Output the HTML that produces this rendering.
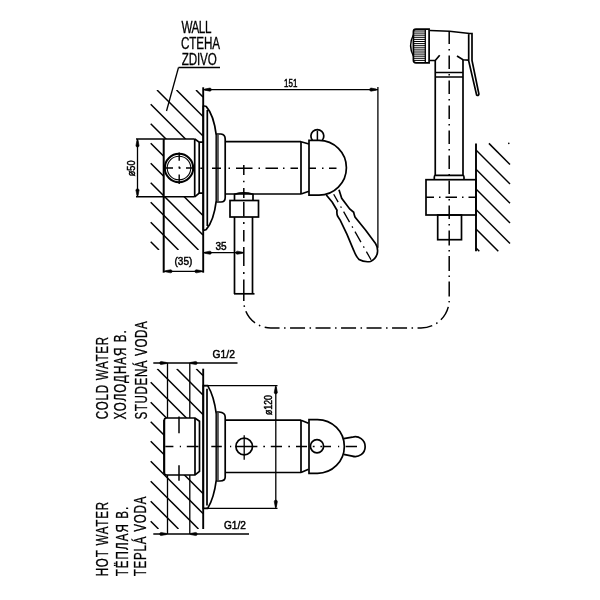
<!DOCTYPE html>
<html><head><meta charset="utf-8"><style>
html,body{margin:0;padding:0;background:#fff;width:600px;height:600px;overflow:hidden}
svg{display:block;will-change:transform}
text{font-family:"Liberation Sans",sans-serif;fill:#000;stroke:#000;stroke-width:0.3px}
text.n{stroke-width:0.5px}
</style></head><body>
<svg width="600" height="600" viewBox="0 0 600 600" stroke="#000" stroke-linecap="butt" fill="none">
<text transform="translate(181.40 33.15) scale(0.73 1)" font-size="16.00" text-anchor="start" textLength="41.10" lengthAdjust="spacing">WALL</text>
<text transform="translate(181.00 48.85) scale(0.73 1)" font-size="16.00" text-anchor="start" textLength="53.42" lengthAdjust="spacing">CTEHA</text>
<text transform="translate(181.80 64.50) scale(0.73 1)" font-size="16.00" text-anchor="start" textLength="47.95" lengthAdjust="spacing">ZDIVO</text>
<line x1="178.50" y1="67.50" x2="220.00" y2="67.50" stroke-width="1.3" />
<line x1="178.50" y1="67.50" x2="166.50" y2="111.00" stroke-width="1.3" />
<clipPath id="c1"><path d="M150 90 H203 V139 H164 V197 H203 V250 H150 Z"/></clipPath>
<line x1="196.00" y1="90.00" x2="203.00" y2="97.00" stroke-width="1.5" clip-path="url(#c1)"/>
<line x1="176.50" y1="90.00" x2="203.00" y2="116.50" stroke-width="1.5" clip-path="url(#c1)"/>
<line x1="157.00" y1="90.00" x2="203.00" y2="136.00" stroke-width="1.5" clip-path="url(#c1)"/>
<line x1="150.70" y1="104.20" x2="203.00" y2="156.50" stroke-width="1.5" clip-path="url(#c1)"/>
<line x1="150.70" y1="123.70" x2="203.00" y2="176.00" stroke-width="1.5" clip-path="url(#c1)"/>
<line x1="150.70" y1="143.20" x2="203.00" y2="195.50" stroke-width="1.5" clip-path="url(#c1)"/>
<line x1="150.70" y1="163.20" x2="203.00" y2="215.50" stroke-width="1.5" clip-path="url(#c1)"/>
<line x1="150.70" y1="182.70" x2="203.00" y2="235.00" stroke-width="1.5" clip-path="url(#c1)"/>
<line x1="150.70" y1="202.20" x2="198.50" y2="250.00" stroke-width="1.5" clip-path="url(#c1)"/>
<line x1="150.70" y1="222.20" x2="178.50" y2="250.00" stroke-width="1.5" clip-path="url(#c1)"/>
<line x1="150.70" y1="241.70" x2="159.00" y2="250.00" stroke-width="1.5" clip-path="url(#c1)"/>
<line x1="203.20" y1="87.30" x2="203.20" y2="272.70" stroke-width="1.9" />
<line x1="203.00" y1="89.60" x2="378.00" y2="89.60" stroke-width="1.3" />
<path d="M204.60 89.06 L209.85 88.05 A1.55 1.55 0 0 1 209.85 91.15 L204.60 90.14 Z" fill="#000" stroke="#000" stroke-width="0.6" stroke-linejoin="round"/>
<path d="M376.40 90.14 L371.15 91.15 A1.55 1.55 0 0 1 371.15 88.05 L376.40 89.06 Z" fill="#000" stroke="#000" stroke-width="0.6" stroke-linejoin="round"/>
<text class="n" transform="translate(284.10 86.70) scale(0.6765257108936115 1)" font-size="11.80" text-anchor="start">151</text>
<line x1="377.90" y1="87.00" x2="377.90" y2="247.70" stroke-width="1.3" />
<line x1="136.00" y1="139.00" x2="194.70" y2="139.00" stroke-width="1.5" />
<path d="M194.7 139 L199.2 142.2 H203" stroke-width="1.7" fill="none" />
<line x1="136.00" y1="196.80" x2="194.70" y2="196.80" stroke-width="1.5" />
<path d="M194.7 196.8 L199.2 193.2 H203" stroke-width="1.7" fill="none" />
<line x1="163.70" y1="139.00" x2="163.70" y2="272.70" stroke-width="2.0" />
<line x1="194.70" y1="139.00" x2="194.70" y2="196.80" stroke-width="1.7" />
<line x1="199.20" y1="142.20" x2="199.20" y2="193.20" stroke-width="1.7" />
<line x1="137.50" y1="139.00" x2="137.50" y2="196.80" stroke-width="1.3" />
<path d="M138.04 140.30 L139.05 145.55 A1.55 1.55 0 0 1 135.95 145.55 L136.96 140.30 Z" fill="#000" stroke="#000" stroke-width="0.6" stroke-linejoin="round"/>
<path d="M136.96 195.50 L135.95 190.25 A1.55 1.55 0 0 1 139.05 190.25 L138.04 195.50 Z" fill="#000" stroke="#000" stroke-width="0.6" stroke-linejoin="round"/>
<text class="n" transform="translate(134.95 176.25) rotate(-90) scale(0.7751942383391146 1)" font-size="11.80" text-anchor="start">ø50</text>
<circle cx="179" cy="168" r="14.2" stroke-width="2.0" fill="none"/>
<circle cx="179" cy="168" r="11.8" stroke-width="1.1" fill="none"/>
<path d="M164.8 168H173 M179.0 168H180.6 M186 168H193" stroke-width="1.4" fill="none" />
<path d="M179.2 152.5V160.7 M179.2 166.5V168.5 M179.2 174.5V184" stroke-width="1.4" fill="none" />
<path d="M203.3 229.8 L203.3 106.3 Q204.5 105.6 206.3 106.6 Q213.8 115 216.3 135.3 L216.3 200.7 Q213.8 221 206.3 229.4 Q204.5 230.4 203.3 229.8 Z" stroke-width="1.7" fill="none" />
<line x1="207.30" y1="110.00" x2="207.30" y2="226.00" stroke-width="1.7" />
<path d="M216.3 134 L221 134 Q225.2 134.5 225.2 139 L225.2 197.5 Q225.2 202 221 202 L216.3 202" stroke-width="1.7" fill="none" />
<line x1="217.80" y1="135.00" x2="217.80" y2="201.00" stroke-width="2.2" stroke="#555"/>
<line x1="225.20" y1="141.70" x2="301.00" y2="141.70" stroke-width="1.7" />
<line x1="225.20" y1="194.00" x2="301.00" y2="194.00" stroke-width="1.7" />
<line x1="301.00" y1="141.70" x2="301.00" y2="194.00" stroke-width="1.7" />
<path d="M301 141.7 L309 144 M301 194 L309 191.3" stroke-width="1.7" fill="none" />
<path d="M312.4 140.3 A6.45 6.45 0 1 1 322.3 140.3" stroke-width="1.7" fill="none" />
<line x1="317.40" y1="130.60" x2="317.40" y2="140.40" stroke-width="1.5" />
<path d="M309 140.4 H319 A27.4 27.4 0 0 1 319 195.2 H309 Z" stroke-width="1.7" fill="none" />
<path d="M326.3 195 L332.3 202.3 L337 210.3 Q336.5 214 337.7 216.3 L340.3 220.3 L347 234.3 L353.7 250.3 Q356 256.5 359 259.5 Q364.3 262.5 370.5 261.5 Q376 259 377.4 253 Q378.2 247.5 375.5 243.5 L365.7 230.3 L355 217 Q354 214 353.7 212.3 L349.7 209 L341.7 198.3 L339 189.7" stroke-width="1.7" fill="none" />
<path d="M333.70 194.30L338.16 202.12 M340.64 206.46L341.38 207.76 M343.61 211.67L349.55 222.10 M352.03 226.44L352.77 227.74 M355.00 231.65L360.95 242.08 M363.43 246.42L364.17 247.72 M366.40 251.63L371.01 259.71" stroke-width="1.3" fill="none" />
<path d="M200.3 168.2H202.6 M212 168.2H221 M228.5 168.2H230 M236 168.2H252.5 M258.5 168.2H260 M265.5 168.2H278 M283 168.2H284.5 M290.5 168.2H298 M309 168.2H316 M322 168.2H323.5 M329 168.2H336.5" stroke-width="1.5" fill="none" />
<path d="M234.5 200.5 L234.5 194.3 Q243.8 191.6 253 194.3 L253 200.5" stroke-width="1.7" fill="none" />
<rect x="230" y="200.5" width="28.50" height="16.50" stroke-width="1.7" fill="none"/>
<line x1="234.50" y1="217.00" x2="234.50" y2="294.00" stroke-width="1.7" />
<line x1="252.50" y1="217.00" x2="252.50" y2="294.00" stroke-width="1.7" />
<line x1="234.00" y1="293.80" x2="254.50" y2="293.80" stroke-width="1.7" />
<path d="M243.8 165V175 M243.8 180.8V182.2 M243.8 188V198 M243.8 202V216.5 M243.8 222V224 M243.8 230V241.5 M243.8 247V266 M243.8 272V274 M243.8 279.5V294" stroke-width="1.5" fill="none" />
<line x1="203.00" y1="252.70" x2="244.00" y2="252.70" stroke-width="1.3" />
<path d="M204.60 252.16 L209.85 251.15 A1.55 1.55 0 0 1 209.85 254.25 L204.60 253.24 Z" fill="#000" stroke="#000" stroke-width="0.6" stroke-linejoin="round"/>
<path d="M242.70 253.24 L237.45 254.25 A1.55 1.55 0 0 1 237.45 251.15 L242.70 252.16 Z" fill="#000" stroke="#000" stroke-width="0.6" stroke-linejoin="round"/>
<text class="n" transform="translate(215.50 249.80) scale(0.85 1)" font-size="11.80" text-anchor="start">35</text>
<line x1="163.70" y1="271.30" x2="203.00" y2="271.30" stroke-width="1.3" />
<path d="M165.30 270.76 L170.55 269.75 A1.55 1.55 0 0 1 170.55 272.85 L165.30 271.84 Z" fill="#000" stroke="#000" stroke-width="0.6" stroke-linejoin="round"/>
<path d="M201.70 271.84 L196.45 272.85 A1.55 1.55 0 0 1 196.45 269.75 L201.70 270.76 Z" fill="#000" stroke="#000" stroke-width="0.6" stroke-linejoin="round"/>
<text class="n" transform="translate(174.50 265.00) scale(0.85 1)" font-size="11.80" text-anchor="start">(35)</text>
<path d="M243.8 294 L243.8 301 A27 27 0 0 0 270.8 328 L421 328 A28.2 28.2 0 0 0 449.2 299.8 L449.2 240" stroke-width="1.5" fill="none" stroke-dasharray="15 4.5 1.5 4.5" stroke-dashoffset="8"/>
<path d="M416 29.2 L429.1 29.2 L429.1 62.8 L416 62.8 Q413.4 62.8 413.4 60.2 L413.4 31.8 Q413.4 29.2 416 29.2 Z" stroke-width="1.7" fill="none" />
<line x1="425.30" y1="29.50" x2="425.30" y2="62.50" stroke-width="1.3" />
<path d="M413.4 34.8 Q407.8 45.5 413.4 56.2" stroke-width="1.4" fill="none" />
<line x1="413.60" y1="31.00" x2="425.30" y2="31.00" stroke-width="1.0" />
<line x1="413.60" y1="33.10" x2="425.30" y2="33.10" stroke-width="1.0" />
<line x1="413.60" y1="35.20" x2="425.30" y2="35.20" stroke-width="1.0" />
<line x1="413.60" y1="37.30" x2="425.30" y2="37.30" stroke-width="1.0" />
<line x1="413.60" y1="39.40" x2="425.30" y2="39.40" stroke-width="1.0" />
<line x1="413.60" y1="41.50" x2="425.30" y2="41.50" stroke-width="1.0" />
<line x1="413.60" y1="43.60" x2="425.30" y2="43.60" stroke-width="1.0" />
<line x1="413.60" y1="45.70" x2="425.30" y2="45.70" stroke-width="1.0" />
<line x1="413.60" y1="47.80" x2="425.30" y2="47.80" stroke-width="1.0" />
<line x1="413.60" y1="49.90" x2="425.30" y2="49.90" stroke-width="1.0" />
<line x1="413.60" y1="52.00" x2="425.30" y2="52.00" stroke-width="1.0" />
<line x1="413.60" y1="54.10" x2="425.30" y2="54.10" stroke-width="1.0" />
<line x1="413.60" y1="56.20" x2="425.30" y2="56.20" stroke-width="1.0" />
<line x1="413.60" y1="58.30" x2="425.30" y2="58.30" stroke-width="1.0" />
<line x1="413.60" y1="60.40" x2="425.30" y2="60.40" stroke-width="1.0" />
<path d="M430 30.5 L449.5 31.25 L469.7 33.5 L472 33.5 L472 60.5 L478.9 94 Q478.5 96.2 476.6 95 L468.7 61 L468.7 33.5" stroke-width="1.7" fill="none" />
<path d="M430 60.5 L435.25 60.5 L439.7 55.25 M468.7 60.2 L463 59.75 L457 56" stroke-width="1.7" fill="none" />
<line x1="435.25" y1="60.50" x2="435.25" y2="176.00" stroke-width="1.7" />
<line x1="463.00" y1="59.75" x2="463.00" y2="176.00" stroke-width="1.7" />
<path d="M435.25 72.5 L463 72.5 M435.25 77 L463 77" stroke-width="1.7" fill="none" />
<path d="M435.25 175.3 L463 175.3 M435.25 175.3 Q434.3 175.6 434.3 177.3 L434.3 179.7 M463 175.3 Q464 175.6 464 177.3 L464 179.7" stroke-width="1.7" fill="none" />
<rect x="426" y="179.7" width="50.00" height="35.30" stroke-width="1.7" fill="none"/>
<path d="M426 197.2H434 M439 197.2H440.5 M445.5 197.2H457 M462 197.2H463.5 M468.5 197.2H476" stroke-width="1.4" fill="none" />
<rect x="437.7" y="215" width="23.80" height="24.70" stroke-width="1.7" fill="none"/>
<path d="M449.2 31V44 M449.2 49V50.5 M449.2 55.5V69 M449.2 74V75.5 M449.2 80.5V94 M449.2 99V100.5 M449.2 105.5V119 M449.2 124V125.5 M449.2 130.5V144 M449.2 149V150.5 M449.2 155.5V169 M449.2 174V175.5 M449.2 180.5V194 M449.2 199V200.5 M449.2 205.5V219 M449.2 224V225.5 M449.2 230.5V240" stroke-width="1.5" fill="none" />
<line x1="476.00" y1="143.40" x2="476.00" y2="251.30" stroke-width="1.9" />
<line x1="488.90" y1="143.40" x2="510.00" y2="164.50" stroke-width="1.5" />
<line x1="476.00" y1="150.00" x2="510.00" y2="184.00" stroke-width="1.5" />
<line x1="476.00" y1="169.30" x2="510.00" y2="203.30" stroke-width="1.5" />
<line x1="476.00" y1="189.00" x2="510.00" y2="223.00" stroke-width="1.5" />
<line x1="476.00" y1="209.50" x2="510.00" y2="243.50" stroke-width="1.5" />
<line x1="476.00" y1="229.00" x2="498.30" y2="251.30" stroke-width="1.5" />
<line x1="476.00" y1="248.00" x2="479.30" y2="251.30" stroke-width="1.5" />
<circle cx="508.8" cy="143.4" r="0.8" stroke-width="0" fill="#000"/>
<text transform="translate(108.40 419.30) rotate(-90) scale(0.7 1)" font-size="16.50" text-anchor="start" textLength="117.71" lengthAdjust="spacing">COLD WATER</text>
<text transform="translate(125.50 419.50) rotate(-90) scale(0.7 1)" font-size="16.50" text-anchor="start" textLength="127.31" lengthAdjust="spacing">ХОЛОДНАЯ В.</text>
<text transform="translate(146.80 419.50) rotate(-90) scale(0.7 1)" font-size="16.50" text-anchor="start" textLength="140.40" lengthAdjust="spacing">STUDENÁ VODA</text>
<text transform="translate(108.00 576.30) rotate(-90) scale(0.7 1)" font-size="16.50" text-anchor="start" textLength="106.29" lengthAdjust="spacing">HOT WATER</text>
<text transform="translate(127.50 576.30) rotate(-90) scale(0.7 1)" font-size="16.50" text-anchor="start" textLength="99.20" lengthAdjust="spacing">ТЁПЛАЯ В.</text>
<text transform="translate(146.30 576.30) rotate(-90) scale(0.7 1)" font-size="16.50" text-anchor="start" textLength="113.77" lengthAdjust="spacing">TEPLÁ VODA</text>
<line x1="153.30" y1="363.00" x2="237.50" y2="363.00" stroke-width="1.3" />
<path d="M166.50 363.54 L161.25 364.55 A1.55 1.55 0 0 1 161.25 361.45 L166.50 362.46 Z" fill="#000" stroke="#000" stroke-width="0.6" stroke-linejoin="round"/>
<path d="M190.40 362.46 L195.65 361.45 A1.55 1.55 0 0 1 195.65 364.55 L190.40 363.54 Z" fill="#000" stroke="#000" stroke-width="0.6" stroke-linejoin="round"/>
<text class="n" transform="translate(212.60 357.60) scale(0.869957458819714 1)" font-size="11.80" text-anchor="start">G1/2</text>
<line x1="153.30" y1="534.00" x2="249.00" y2="534.00" stroke-width="1.3" />
<path d="M166.50 534.54 L161.25 535.55 A1.55 1.55 0 0 1 161.25 532.45 L166.50 533.46 Z" fill="#000" stroke="#000" stroke-width="0.6" stroke-linejoin="round"/>
<path d="M190.40 533.46 L195.65 532.45 A1.55 1.55 0 0 1 195.65 535.55 L190.40 534.54 Z" fill="#000" stroke="#000" stroke-width="0.6" stroke-linejoin="round"/>
<text class="n" transform="translate(224.00 528.80) scale(0.8570833333333333 1)" font-size="11.80" text-anchor="start">G1/2</text>
<path d="M167.5 362.7 V418 M167.5 475 V534 M189.8 362.7 V418 M189.8 475 V534" stroke-width="1.3" fill="none" />
<clipPath id="c2"><path d="M150 368.7 H203 V418 H164 V475 H203 V529 H150 Z"/></clipPath>
<line x1="196.20" y1="368.70" x2="203.00" y2="375.50" stroke-width="1.5" clip-path="url(#c2)"/>
<line x1="176.70" y1="368.70" x2="203.00" y2="395.00" stroke-width="1.5" clip-path="url(#c2)"/>
<line x1="157.20" y1="368.70" x2="203.00" y2="414.50" stroke-width="1.5" clip-path="url(#c2)"/>
<line x1="150.70" y1="382.20" x2="203.00" y2="434.50" stroke-width="1.5" clip-path="url(#c2)"/>
<line x1="150.70" y1="402.20" x2="203.00" y2="454.50" stroke-width="1.5" clip-path="url(#c2)"/>
<line x1="150.70" y1="421.70" x2="203.00" y2="474.00" stroke-width="1.5" clip-path="url(#c2)"/>
<line x1="150.70" y1="441.20" x2="203.00" y2="493.50" stroke-width="1.5" clip-path="url(#c2)"/>
<line x1="150.70" y1="461.20" x2="203.00" y2="513.50" stroke-width="1.5" clip-path="url(#c2)"/>
<line x1="150.70" y1="481.20" x2="198.50" y2="529.00" stroke-width="1.5" clip-path="url(#c2)"/>
<line x1="150.70" y1="501.20" x2="178.50" y2="529.00" stroke-width="1.5" clip-path="url(#c2)"/>
<line x1="150.70" y1="521.20" x2="158.50" y2="529.00" stroke-width="1.5" clip-path="url(#c2)"/>
<line x1="203.20" y1="368.70" x2="203.20" y2="529.00" stroke-width="1.9" />
<path d="M164.2 420.5 Q164.2 418 166.7 418 L195 418 L199.5 421.3 L199.5 471.3 L195 475 L166.7 475 Q164.2 475 164.2 472.5 Z" stroke-width="1.7" fill="none" />
<line x1="164.20" y1="420.00" x2="164.20" y2="473.00" stroke-width="2.0" />
<line x1="195.00" y1="418.00" x2="195.00" y2="475.00" stroke-width="1.7" />
<line x1="179.00" y1="416.50" x2="179.00" y2="433.30" stroke-width="1.5" />
<line x1="179.00" y1="465.30" x2="179.00" y2="480.70" stroke-width="1.5" />
<path d="M203.3 508.4 L203.3 385.6 L207.7 385.6 Q214 396 216.3 414 L216.3 480 Q214 498 207.7 508.4 Z" stroke-width="1.7" fill="none" />
<line x1="207.00" y1="388.70" x2="207.00" y2="505.50" stroke-width="1.7" />
<path d="M216.3 412 L219 412 Q225.2 412.5 225.2 417 L225.2 477 Q225.2 481 220 481 L216.3 481" stroke-width="1.7" fill="none" />
<line x1="217.80" y1="413.00" x2="217.80" y2="480.00" stroke-width="2.2" stroke="#555"/>
<line x1="203.30" y1="385.60" x2="277.50" y2="385.60" stroke-width="1.3" />
<line x1="206.00" y1="508.40" x2="277.50" y2="508.40" stroke-width="1.3" />
<line x1="275.80" y1="385.60" x2="275.80" y2="508.40" stroke-width="1.3" />
<path d="M276.34 387.10 L277.35 392.35 A1.55 1.55 0 0 1 274.25 392.35 L275.26 387.10 Z" fill="#000" stroke="#000" stroke-width="0.6" stroke-linejoin="round"/>
<path d="M275.26 506.90 L274.25 501.65 A1.55 1.55 0 0 1 277.35 501.65 L276.34 506.90 Z" fill="#000" stroke="#000" stroke-width="0.6" stroke-linejoin="round"/>
<text class="n" transform="translate(272.40 415.10) rotate(-90) scale(0.7449145930482652 1)" font-size="11.80" text-anchor="start">ø120</text>
<line x1="225.20" y1="420.20" x2="301.00" y2="420.20" stroke-width="1.7" />
<line x1="225.20" y1="472.50" x2="301.00" y2="472.50" stroke-width="1.7" />
<line x1="301.00" y1="420.20" x2="301.00" y2="472.50" stroke-width="1.7" />
<path d="M301 420.2 L308.5 423.3 M301 472.5 L308.5 469.3" stroke-width="1.7" fill="none" />
<path d="M309 419.6 H317.5 A26.85 26.85 0 0 1 317.5 473.3 H309 Z" stroke-width="1.7" fill="none" />
<circle cx="317" cy="446.3" r="6.6" stroke-width="1.7" fill="none"/>
<path d="M343.7 438.7 L352.3 437.2 A9.9 9.9 0 1 1 352.3 456.1 L343.7 454.4" stroke-width="1.7" fill="none" />
<path d="M165.3 446.6H173.4 M179.8 446.6H181 M186.8 446.6H198.5 M211.3 446.6H221.8 M230 446.6H231.2 M235.8 446.6H257.4 M263.3 446.6H265 M270.8 446.6H282 M288.3 446.6H290 M296 446.6H307 M312.8 446.6H314.6 M320.4 446.6H322.2 M323.7 446.6H331 M338 446.6H339.2 M345.7 446.6H357" stroke-width="1.5" fill="none" />
<circle cx="244.2" cy="446.5" r="8.3" stroke-width="1.7" fill="none"/>
<line x1="244.20" y1="435.30" x2="244.20" y2="459.70" stroke-width="1.3" />
</svg>
</body></html>
